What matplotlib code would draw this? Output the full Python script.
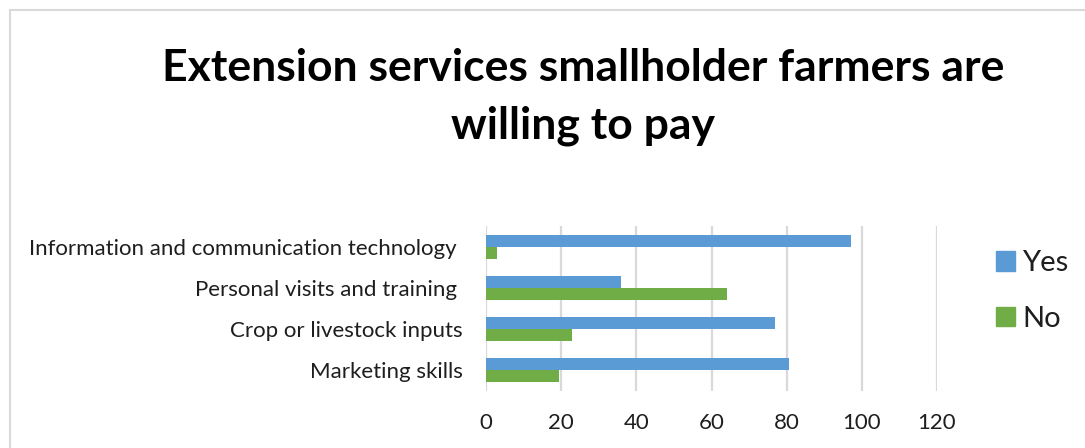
import numpy as np
import matplotlib
matplotlib.use("Agg")
import matplotlib.pyplot as plt
from matplotlib.lines import Line2D
from matplotlib.patches import Patch

# Survey results (% of respondents)
services = ["Information and communication technology ",
            "Personal visits and training ",
            "Crop or livestock inputs",
            "Marketing skills"]
yes_pct = [97, 36, 77, 80.5]
no_pct = [3, 64, 23, 19.5]
xticks = [0, 20, 40, 60, 80, 100, 120]

blue = "#5B9BD5"
green = "#70AD47"
grid_gray = "#D9D9D9"
txt = "#1E1E1E"

plt.rcParams["font.family"] = ["Lato", "DejaVu Sans"]

fig = plt.figure(figsize=(10.85, 4.48), dpi=100)
ax = fig.add_axes([486 / 1085, 1 - 391 / 448, 451 / 1085, 165 / 448])

y = np.arange(len(services))
h = 0.29
ax.barh(y - h / 2, yes_pct, height=h, color=blue, label="Yes", zorder=3)
ax.barh(y + h / 2, no_pct, height=h, color=green, label="No", zorder=3)

ax.set_xlim(0, 120)
ax.set_ylim(len(services) - 0.5, -0.5)
ax.set_xticks(xticks)
ax.set_yticks(y)
ax.set_yticklabels(services)
ax.xaxis.grid(True, color=grid_gray, lw=1.6, zorder=0)
ax.tick_params(axis="x", length=0, pad=16, labelsize=16, colors=txt)
ax.tick_params(axis="y", length=0, pad=17, labelsize=16, colors=txt)
for s in ax.spines.values():
    s.set_visible(False)

# Title
fig.text(0.5375, 1 - 68 / 448, "Extension services smallholder farmers are",
         ha="center", va="center", fontsize=32, fontweight="bold", color="black")
fig.text(0.5375, 1 - 126 / 448, "willing to pay",
         ha="center", va="center", fontsize=32, fontweight="bold", color="black")

# Legend
handles = [Patch(color=blue, label="Yes"), Patch(color=green, label="No")]
fig.legend(handles=handles, loc="center left",
           bbox_to_anchor=(970 / 1085, 1 - 291 / 448), frameon=False,
           fontsize=21, handlelength=0.65, handleheight=0.65, handletextpad=0.25,
           labelspacing=1.0, labelcolor=txt)

# Chart area border (top and left edges)
fig.add_artist(Line2D([10 / 1085, 10 / 1085], [0, 1 - 10 / 448],
                      transform=fig.transFigure, color=grid_gray, lw=1.5))
fig.add_artist(Line2D([10 / 1085, 1], [1 - 10 / 448, 1 - 10 / 448],
                      transform=fig.transFigure, color=grid_gray, lw=1.5))

fig.savefig("out.png", dpi=100)
